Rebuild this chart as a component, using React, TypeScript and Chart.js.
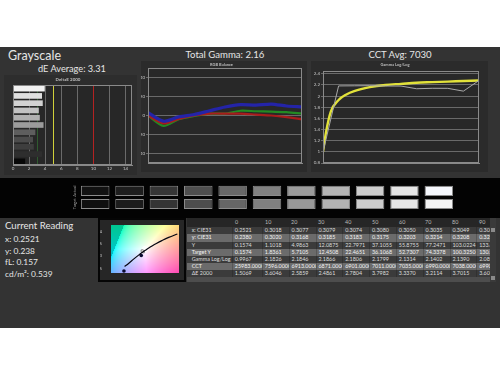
import React, { useEffect, useRef } from "react";
import { Chart, registerables } from "chart.js";

Chart.register(...registerables);

const FONT = "Lato, 'Open Sans', 'DejaVu Sans', sans-serif";
Chart.defaults.font.family = FONT;

// ---------------- data ----------------
const dELevels = ["100", "90", "80", "70", "60", "50", "40", "30", "20", "10", "0"];
const dEValues = [3.95, 3.6071, 3.7015, 3.2114, 3.337, 3.7982, 2.7804, 2.4861, 2.5859, 3.6046, 1.5069];
const dEBarColors = ["#f2f2f2", "#e0e0e0", "#d2d2d2", "#c2c2c2", "#b0b0b0", "#9c9c9c", "#5e5e5e", "#4c4c4c", "#3e3e3e", "#2e2e2e", "#080808"];
const dEAxisTicks = [0, 2, 4, 6, 8, 10, 12, 14];
const dEThresholds = [3, 5, 10];
const dEThresholdColors = ["#2f5a2f", "#cfcf3a", "#b42222"];

const rgbLevels = [0, 10, 20, 30, 40, 50, 60, 70, 80, 90, 100];
const redBalance = [0, -8.4, -3.5, 0, 2, 2, 2, 1, 0, -1.7, -4];
const greenBalance = [0, -11, -4, -0.5, 2, 2, 5, 4.5, 4, 3.5, 2];
const blueBalance = [3, -6, -1.5, 1, 5, 9, 11.5, 11, 12, 10, 9];
const rgbTicks = [-40, -20, 0, 20, 40];
const levelTicks = [0, 10, 20, 30, 40, 50, 60, 70, 80, 90, 100];

const gammaLevels = [0, 10, 20, 30, 40, 50, 60, 70, 80, 90, 100];
const gammaMeasured = [0.9967, 2.1826, 2.1846, 2.1866, 2.1806, 2.1799, 2.1314, 2.1402, 2.139, 2.089, 2.28];
const gammaTargetLevels = [0, 2, 5, 10, 15, 20, 30, 40, 50, 60, 70, 80, 90, 100];
const gammaTargetValues = [1.0, 1.36, 1.72, 1.93, 2.03, 2.09, 2.16, 2.2, 2.22, 2.24, 2.25, 2.26, 2.27, 2.28];
const gammaTicks = [0.8, 1, 1.2, 1.4, 1.6, 1.8, 2, 2.2, 2.4];

const swatchLevels = ["0", "10", "20", "30", "40", "50", "60", "70", "80", "90", "100"];
const swatchRowLabels = ["Actual", "Target"];
const actualColors = ["#121212", "#1e1e1e", "#363636", "#4f4f4f", "#686868", "#818181", "#9b9b9b", "#b4b4b4", "#cdcdcd", "#e5e5e5", "#f5f7fc"];
const targetColors = ["#101010", "#1c1c1c", "#343434", "#4d4d4d", "#666666", "#808080", "#999999", "#b3b3b3", "#cccccc", "#e6e6e6", "#f4f4f4"];
const actualSpan = [1.12, 1.95];
const targetSpan = [0.08, 0.88];

const locusX = [0.254, 0.2637, 0.2807, 0.2951, 0.3064, 0.3135, 0.3221, 0.3325, 0.3451, 0.3608, 0.3805, 0.4053];
const locusY = [0.257, 0.2671, 0.2883, 0.3048, 0.3166, 0.3236, 0.3318, 0.3411, 0.3516, 0.3635, 0.3768, 0.3907];
const readingX = [0.2521, 0.3018];
const readingY = [0.238, 0.302];
const otherX = [0.3077, 0.3079, 0.3074, 0.308, 0.305, 0.3035, 0.3049, 0.3053];
const otherY = [0.3168, 0.3185, 0.3183, 0.3175, 0.3203, 0.3214, 0.3208, 0.3212];
const whiteTargetX = [0.3127];
const whiteTargetY = [0.329];
const cieTicks = [0.25, 0.3, 0.35, 0.4];

const tableLevels = ["0", "10", "20", "30", "40", "50", "60", "70", "80", "90"];
const rowLabels = ["x: CIE31", "y: CIE31", "Y", "Target Y", "Gamma Log/Log", "CCT", "ΔE 2000"];
const xCIE31 = [0.2521, 0.3018, 0.3077, 0.3079, 0.3074, 0.308, 0.305, 0.3035, 0.3049, 0.3053];
const yCIE31 = [0.238, 0.302, 0.3168, 0.3185, 0.3183, 0.3175, 0.3203, 0.3214, 0.3208, 0.3212];
const lumY = [0.1574, 1.1018, 4.9863, 12.0875, 22.7971, 37.1055, 55.8755, 77.2471, 103.0224, 133.4012];
const targetLumY = [0.1574, 1.8361, 5.7105, 12.4508, 22.4651, 36.1068, 52.7307, 74.3378, 100.325, 130.9186];
const gammaLogLog = [0.9967, 2.1826, 2.1846, 2.1866, 2.1806, 2.1799, 2.1314, 2.1402, 2.139, 2.089];
const cct = [25983, 7596, 6913, 6871, 6901, 7011, 7035, 6990, 7038, 6990];
const dE2000 = [1.5069, 3.6046, 2.5859, 2.4861, 2.7804, 3.7982, 3.337, 3.2114, 3.7015, 3.6071];
const tableRows = [xCIE31, yCIE31, lumY, targetLumY, gammaLogLog, cct, dE2000];

const readingLines = ["x: 0.2521", "y: 0.238", "fL: 0.157", "cd/m\u00b2: 0.539"];

// ---------------- helpers ----------------
const TICK = "#c4c4c4";
const GRID = "#6a6a6a";

const plotBg = (color: string) => ({
  id: "plotBg",
  beforeDraw(chart: any) {
    const { ctx, chartArea: a } = chart;
    ctx.save();
    ctx.fillStyle = color;
    ctx.fillRect(a.left, a.top, a.width, a.height);
    ctx.restore();
  },
});

const plotBorder = (color: string) => ({
  id: "plotBorder",
  afterDatasetsDraw(chart: any) {
    const { ctx, chartArea: a } = chart;
    ctx.save();
    ctx.strokeStyle = color;
    ctx.lineWidth = 1;
    ctx.strokeRect(Math.round(a.left) + 0.5, Math.round(a.top) + 0.5, Math.round(a.width) - 1, Math.round(a.height) - 1);
    ctx.restore();
  },
});

const fixedTicks = (vals: number[]) => (scale: any) => {
  scale.ticks = vals.map((v) => ({ value: v }));
};

function ChartBox(props: { left: number; top: number; width: number; height: number; bg?: string; border?: string; make: () => any }) {
  const ref = useRef<HTMLCanvasElement>(null);
  useEffect(() => {
    const chart = new Chart(ref.current as HTMLCanvasElement, props.make());
    return () => chart.destroy();
  }, []);
  const b = props.border ? 2 : 0;
  return (
    <div
      style={{
        position: "absolute",
        left: props.left,
        top: props.top,
        width: props.width - 2 * b,
        height: props.height - 2 * b,
        background: props.bg || "transparent",
        border: props.border ? `${b}px solid ${props.border}` : undefined,
      }}
    >
      <canvas ref={ref} width={props.width - 2 * b} height={props.height - 2 * b} style={{ display: "block" }} />
    </div>
  );
}

const tinyFont = (size = 4.5) => ({ size, family: FONT });

// ---------------- chart configs ----------------
function dEConfig() {
  const thresholdLines = {
    id: "thresholds",
    beforeDatasetsDraw(chart: any) {
      const { ctx, chartArea: a, scales } = chart;
      ctx.save();
      dEThresholds.forEach((v, i) => {
        const px = Math.round(scales.x.getPixelForValue(v)) + 0.5;
        ctx.strokeStyle = dEThresholdColors[i];
        ctx.lineWidth = 1;
        ctx.beginPath();
        ctx.moveTo(px, a.top);
        ctx.lineTo(px, a.bottom);
        ctx.stroke();
      });
      ctx.restore();
    },
  };
  return {
    type: "bar",
    data: {
      labels: dELevels,
      datasets: [{ data: dEValues, backgroundColor: dEBarColors, barPercentage: 0.78, categoryPercentage: 1 }],
    },
    options: {
      animation: false,
      responsive: false,
      indexAxis: "y",
      layout: { padding: { left: 0, right: 5, top: 0, bottom: 3 } },
      scales: {
        x: {
          min: 0,
          max: 14.8,
          afterBuildTicks: fixedTicks(dEAxisTicks),
          afterFit: (s: any) => { s.height = 7; },
          ticks: { color: TICK, font: tinyFont(), padding: 1, maxRotation: 0 },
          grid: { color: GRID, tickLength: 0 },
          border: { color: "#888" },
        },
        y: {
          afterFit: (s: any) => { s.width = 9; },
          ticks: { color: TICK, font: tinyFont(4.3), padding: 1 },
          grid: { display: false },
          border: { color: "#888" },
        },
      },
      plugins: {
        legend: { display: false },
        tooltip: { enabled: false },
        title: { display: true, text: "DeltaE 2000", color: "#bdbdbd", font: tinyFont(4.5), padding: { top: 2, bottom: 2.6 } },
      },
    },
    plugins: [plotBg("#272727"), thresholdLines, plotBorder("#8a8a8a")],
  };
}

function rgbConfig() {
  const mk = (vals: number[], color: string, w: number) => ({
    data: rgbLevels.map((l, i) => ({ x: l, y: vals[i] })),
    borderColor: color,
    borderWidth: w,
    pointRadius: 0,
    tension: 0.25,
  });
  return {
    type: "line",
    data: {
      datasets: [mk(blueBalance, "#2424a8", 3.2), mk(redBalance, "#a81c1c", 2.2), mk(greenBalance, "#238a23", 2.2)],
    },
    options: {
      animation: false,
      responsive: false,
      layout: { padding: { left: 0, right: 5, top: 0, bottom: 3 } },
      scales: {
        x: {
          type: "linear",
          min: 0,
          max: 100,
          afterBuildTicks: fixedTicks(levelTicks),
          afterFit: (s: any) => { s.height = 6; },
          ticks: { color: TICK, font: tinyFont(), padding: 1, maxRotation: 0 },
          grid: { display: false },
          border: { color: "#888" },
        },
        y: {
          min: -50,
          max: 50,
          afterBuildTicks: fixedTicks(rgbTicks),
          afterFit: (s: any) => { s.width = 7; },
          ticks: { color: TICK, font: tinyFont(), padding: 1 },
          grid: { color: GRID, tickLength: 2 },
          border: { color: "#888" },
        },
      },
      plugins: {
        legend: { display: false },
        tooltip: { enabled: false },
        title: { display: true, text: "RGB Balance", color: "#bdbdbd", font: tinyFont(4), padding: { top: 1.6, bottom: 0.6 } },
      },
    },
    plugins: [plotBg("#282828"), plotBorder("#8a8a8a")],
  };
}

function gammaConfig() {
  return {
    type: "line",
    data: {
      datasets: [
        {
          data: gammaLevels.map((l, i) => ({ x: l, y: gammaMeasured[i] })),
          borderColor: "#a8a8a8",
          borderWidth: 1,
          pointRadius: 0,
          tension: 0,
        },
        {
          data: gammaTargetLevels.map((l, i) => ({ x: l, y: gammaTargetValues[i] })),
          borderColor: "#e2e23a",
          borderWidth: 2.4,
          pointRadius: 0,
          cubicInterpolationMode: "monotone",
        },
      ],
    },
    options: {
      animation: false,
      responsive: false,
      layout: { padding: { left: 0, right: 9, top: 0, bottom: 3 } },
      scales: {
        x: {
          type: "linear",
          min: 0,
          max: 100,
          afterBuildTicks: fixedTicks(levelTicks),
          afterFit: (s: any) => { s.height = 6; },
          ticks: { color: TICK, font: tinyFont(), padding: 1, maxRotation: 0 },
          grid: { display: false },
          border: { color: "#888" },
        },
        y: {
          min: 0.8,
          max: 2.45,
          afterBuildTicks: fixedTicks(gammaTicks),
          afterFit: (s: any) => { s.width = 12; },
          ticks: { color: TICK, font: tinyFont(), padding: 1, callback: (v: any) => String(Number(Number(v).toFixed(1))) },
          grid: { color: GRID, tickLength: 2 },
          border: { color: "#888" },
        },
      },
      plugins: {
        legend: { display: false },
        tooltip: { enabled: false },
        title: { display: true, text: "Gamma Log/Log", color: "#bdbdbd", font: tinyFont(4), padding: { top: 1.6, bottom: 3.6 } },
      },
    },
    plugins: [plotBg("#282828"), plotBorder("#8a8a8a")],
  };
}

function swatchConfig() {
  const rowLabelPlugin = {
    id: "rowLabels",
    afterDraw(chart: any) {
      const { ctx, chartArea: a, scales } = chart;
      ctx.save();
      ctx.fillStyle = "#a0a0a0";
      ctx.font = `4px ${FONT}`;
      ctx.textAlign = "center";
      ctx.textBaseline = "middle";
      [1.5, 0.5].forEach((v, i) => {
        const py = scales.y.getPixelForValue(v);
        ctx.save();
        ctx.translate(a.left - 3, py);
        ctx.rotate(-Math.PI / 2);
        ctx.fillText(swatchRowLabels[i], 0, 0);
        ctx.restore();
      });
      ctx.restore();
    },
  };
  return {
    type: "bar",
    data: {
      labels: swatchLevels,
      datasets: [
        {
          data: swatchLevels.map(() => actualSpan),
          backgroundColor: actualColors,
          borderColor: "#8c8c8c",
          borderWidth: 1,
          borderSkipped: false,
          grouped: false,
          barPercentage: 0.83,
          categoryPercentage: 1,
        },
        {
          data: swatchLevels.map(() => targetSpan),
          backgroundColor: targetColors,
          borderColor: "#8c8c8c",
          borderWidth: 1,
          borderSkipped: false,
          grouped: false,
          barPercentage: 0.83,
          categoryPercentage: 1,
        },
      ],
    },
    options: {
      animation: false,
      responsive: false,
      layout: { padding: { left: 12, right: 10, top: 6, bottom: 0 } },
      scales: {
        x: {
          afterFit: (s: any) => { s.height = 7; },
          ticks: { color: "#9a9a9a", font: tinyFont(4), padding: 1, maxRotation: 0 },
          grid: { display: false },
          border: { display: false },
        },
        y: { display: false, min: 0, max: 2 },
      },
      plugins: { legend: { display: false }, tooltip: { enabled: false } },
    },
    plugins: [rowLabelPlugin],
  };
}

function cieConfig() {
  const srgb = (c: number) => (c <= 0.0031308 ? 12.92 * c : 1.055 * Math.pow(c, 1 / 2.4) - 0.055);
  const bg = {
    id: "cieBg",
    beforeDatasetsDraw(chart: any) {
      const { ctx, chartArea: a, scales } = chart;
      const L = Math.round(a.left), T = Math.round(a.top);
      const w = Math.round(a.right) - L, h = Math.round(a.bottom) - T;
      const img = ctx.createImageData(w, h);
      for (let j = 0; j < h; j++) {
        for (let i = 0; i < w; i++) {
          const cx = scales.x.getValueForPixel(L + i + 0.5);
          const cy = scales.y.getValueForPixel(T + j + 0.5);
          const X = cx / cy, Z = (1 - cx - cy) / cy;
          let r = 3.2406 * X - 1.5372 - 0.4986 * Z;
          let g = -0.9689 * X + 1.8758 + 0.0415 * Z;
          let b = 0.0557 * X - 0.204 + 1.057 * Z;
          const out = Math.min(r, g, b) < 0;
          r = Math.max(r, 0); g = Math.max(g, 0); b = Math.max(b, 0);
          const m = Math.max(r, g, b);
          const k = out ? 0.78 : 1;
          const idx = (j * w + i) * 4;
          img.data[idx] = Math.round(255 * srgb(r / m) * k);
          img.data[idx + 1] = Math.round(255 * srgb(g / m) * k);
          img.data[idx + 2] = Math.round(255 * srgb(b / m) * k);
          img.data[idx + 3] = 255;
        }
      }
      ctx.putImageData(img, L, T);
    },
  };
  return {
    type: "scatter",
    data: {
      datasets: [
        {
          type: "line",
          data: locusX.map((x, i) => ({ x, y: locusY[i] })),
          borderColor: "#050510",
          borderWidth: 1.2,
          pointRadius: 0,
          tension: 0.4,
        },
        {
          data: otherX.map((x, i) => ({ x, y: otherY[i] })),
          pointStyle: "rect",
          pointRadius: 1.3,
          backgroundColor: "#ffffff",
          borderColor: "#777777",
          borderWidth: 0.5,
        },
        {
          data: whiteTargetX.map((x, i) => ({ x, y: whiteTargetY[i] })),
          pointStyle: "circle",
          pointRadius: 2.6,
          backgroundColor: "rgba(255,255,255,0.35)",
          borderColor: "#ffffff",
          borderWidth: 1,
        },
        {
          data: readingX.map((x, i) => ({ x, y: readingY[i] })),
          pointStyle: "circle",
          pointRadius: 1.8,
          backgroundColor: "#0a0a30",
          borderColor: "#0a0a30",
          borderWidth: 0,
        },
      ],
    },
    options: {
      animation: false,
      responsive: false,
      clip: false,
      layout: { padding: { left: 0, right: 1, top: 2, bottom: 1 } },
      scales: {
        x: {
          type: "linear",
          min: 0.215,
          max: 0.41,
          afterBuildTicks: fixedTicks(cieTicks),
          afterFit: (s: any) => { s.height = 6; },
          ticks: { color: TICK, font: tinyFont(4.3), padding: 1, maxRotation: 0, callback: (v: any) => String(v) },
          grid: { display: false },
          border: { display: false },
        },
        y: {
          type: "linear",
          min: 0.23,
          max: 0.428,
          afterBuildTicks: fixedTicks(cieTicks),
          afterFit: (s: any) => { s.width = 11; },
          ticks: { color: TICK, font: tinyFont(4.3), padding: 1, callback: (v: any) => String(v) },
          grid: { display: false },
          border: { display: false },
        },
      },
      plugins: { legend: { display: false }, tooltip: { enabled: false } },
    },
    plugins: [bg],
  };
}

// ---------------- layout ----------------
function Label(props: { left: number; top: number; size: number; text: string; center?: boolean; color?: string }) {
  return (
    <div
      style={{
        position: "absolute",
        left: props.center ? props.left - 100 : props.left,
        width: props.center ? 200 : undefined,
        textAlign: props.center ? "center" : "left",
        top: props.top,
        fontSize: props.size,
        lineHeight: `${props.size}px`,
        color: props.color || "#e6e6e6",
        whiteSpace: "nowrap",
        fontFamily: FONT,
      }}
    >
      {props.text}
    </div>
  );
}

const COL0 = 232;
const colLeft = (i: number) => (i === 0 ? COL0 : 262 + (i - 1) * 26.8);
const fmt = (v: number) => v.toFixed(4);

function DataTable() {
  const tLeft = 187, tTop = 218, headH = 9.3, rowH = 7.17;
  return (
    <div style={{ position: "absolute", left: tLeft, top: tTop, width: 303, height: 64, overflow: "hidden", background: "#4e4e4e", fontFamily: FONT, fontSize: 5.4, opacity: 0.995 }}>
      <div style={{ position: "absolute", left: 0, top: 0, width: 303, height: headH, background: "#262626" }} />
      {tableLevels.map((l, i) => (
        <div key={"h" + i} style={{ position: "absolute", left: Math.round(colLeft(i) - tLeft + 2.5), top: 0, lineHeight: `${headH}px`, color: "#bdbdbd", whiteSpace: "nowrap" }}>{l}</div>
      ))}
      {rowLabels.map((lab, r) => (
        <div key={"r" + r} style={{ position: "absolute", left: 0, top: headH + r * rowH, width: 303, height: rowH, background: r % 2 ? "#6c6c6c" : "#3c3c3c", lineHeight: `${rowH}px`, color: r % 2 ? "#f4f4f4" : "#dedede" }}>
          <div style={{ position: "absolute", left: 4.7, top: 0, whiteSpace: "nowrap" }}>{lab}</div>
          {tableRows[r].map((v, i) => (
            <div key={i} style={{ position: "absolute", left: colLeft(i) - tLeft, top: 0, width: i === 0 ? 30 : 26.8, height: rowH, borderLeft: "1px solid rgba(0,0,0,0.18)", boxSizing: "border-box", paddingLeft: 1.8, whiteSpace: "nowrap", overflow: "hidden" }}>{fmt(v)}</div>
          ))}
        </div>
      ))}
    </div>
  );
}

export default function App() {
  return (
    <div style={{ position: "absolute", left: 0, top: 0, width: 500, height: 375, background: "#ffffff", overflow: "hidden", fontFamily: FONT }}>
      <div style={{ position: "absolute", left: 0, top: 47, width: 500, height: 281, background: "#333333" }} />
      <Label left={8} top={49.5} size={12.5} text="Grayscale" />
      <Label left={38} top={64} size={9.2} text="dE Average: 3.31" />
      <Label left={225} top={50} size={9.6} text="Total Gamma: 2.16" center />
      <Label left={400} top={50} size={9.6} text="CCT Avg: 7030" center />

      <ChartBox left={4} top={75} width={133} height={100} bg="#2d2d2d" make={dEConfig} />
      <ChartBox left={141} top={61} width={166} height={111} bg="#2b2b2b" make={rgbConfig} />
      <ChartBox left={311} top={61} width={177} height={111} bg="#2b2b2b" make={gammaConfig} />

      <div style={{ position: "absolute", left: 0, top: 178, width: 500, height: 40, background: "#030303" }} />
      <ChartBox left={66} top={179} width={400} height={38} make={swatchConfig} />

      <Label left={5} top={220.5} size={9.6} text="Current Reading" />
      {readingLines.map((t, i) => (
        <Label key={i} left={5} top={235 + i * 11.6} size={8.4} text={t} />
      ))}

      <ChartBox left={98} top={218} width={88} height={64} bg="#262626" border="#050505" make={cieConfig} />

      <DataTable />
      <div style={{ position: "absolute", left: 490, top: 218, width: 6, height: 64, background: "#3a3a3a" }} />
      <div style={{ position: "absolute", left: 490.5, top: 227.5, width: 4, height: 4, background: "#8a8a8a" }} />
      <div style={{ position: "absolute", left: 490.5, top: 276, width: 4, height: 4, background: "#8a8a8a" }} />
    </div>
  );
}
